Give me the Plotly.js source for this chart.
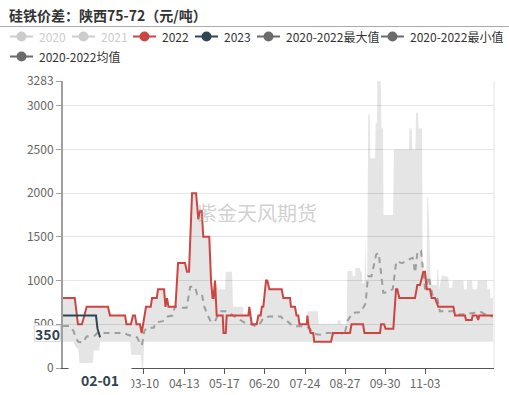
<!DOCTYPE html>
<html><head><meta charset="utf-8">
<script src="https://cdn.plot.ly/plotly-3.0.1.min.js"></script>
<style>html,body{margin:0;padding:0;background:#fff}#chart{width:509px;height:395px}</style>
</head><body><div id="chart"></div>
<script>
// ---- data (x = day index on the category axis) ----
const tickPos = [35, 68.5, 103, 137, 171, 205.5, 239.5, 273.5, 307.5];
const tickLabels = ['', '03-10', '04-13', '05-17', '06-20', '07-24', '08-27', '09-30', '11-03'];
const yTicks = [0, 500, 1000, 1500, 2000, 2500, 3000, 3283];
const legendNames = ['2020', '2021', '2022', '2023', '2020-2022最大值', '2020-2022最小值', '2020-2022均值'];

const x2022 = [0,10,12.7,16.1,20.1,38.2,39.9,52.7,53.9,57.7,59.4,61.1,62.4,65.4,66.8,70.5,74.5,75.6,79.6,80.7,85.8,87,88.3,89.6,95.5,97.7,103.6,105.3,107,109.6,113,114.9,116.3,117.8,119.1,124.2,125.7,127,127.8,129.1,130.5,135.6,136.3,138.2,139,157.4,158.2,159.4,160.3,164.5,165.9,167.9,168.8,170.1,172.4,173.5,175.2,185.7,187.1,192.8,193.6,197,198.3,199.8,200.8,207,207.5,208.3,210.3,212.5,213.4,227.6,229.3,243.7,245,254.8,256,269.2,270.1,272.6,273.9,280.5,282.8,283.9,285.6,298.9,300.9,303.2,306,307.4,308.9,311.7,313,315.9,317.3,318.7,331.5,332.9,341.4,342.2,347.1,347.9,351.3,352.6,353.5,365.2];
const y2022 = [800,800,500,500,700,700,600,600,500,500,600,600,500,500,400,700,700,800,800,900,900,700,800,700,700,1200,1200,1100,1100,2000,2000,1700,1800,1800,1500,1500,1000,800,800,1000,600,600,400,400,600,600,700,600,500,500,600,600,700,700,1000,1000,900,900,800,800,700,700,600,600,500,500,600,500,400,400,300,300,400,400,500,500,400,400,500,500,450,450,900,900,800,800,950,950,1100,1100,900,900,800,800,750,700,700,600,600,550,550,600,600,550,600,600];

const x2023 = [0, 28, 29.3, 31.5];
const y2023 = [600, 600, 450, 350];

const xMean = [0,6,9,11,13,17,20,27,29,52,55,60,63,65,67,69,71,77,79,86,89,93,95,98,101,105,108,112,114,118,120,123,125.5,129,131,134,138,141,146,150,154,160,164,167,170,175,185,188,191,195,205,209,213,218,224,236,239,242,246,253,257,259,262,266,268,270,272,273,280,283,288,295,297,299,301,304,306,307.5,309,310.5,314,318,320,332,337,344,350,355,360,365];
const yMean = [480,480,420,340,300,290,360,370,400,400,380,360,350,290,260,420,460,460,520,540,590,600,700,700,690,690,930,930,840,840,700,600,530,530,590,650,650,630,590,560,520,500,476,500,570,590,590,540,530,480,476,458,390,380,400,400,380,550,630,640,740,1050,1050,1300,1316,1100,860,860,900,1220,1200,1250,1260,1090,1330,1340,1100,900,950,1048,820,790,650,650,610,620,630,640,600,590];

const xMax = [0,10,12.7,16.1,20.1,38.2,39.9,52.7,53.9,57.7,59.4,61.1,62.4,65.4,66.8,70.5,74.5,75.6,79.6,80.7,85.8,87,88.3,89.6,95.5,97.7,103.6,105.3,107,109.6,113,114.9,116.3,117.8,119.1,124.2,125.7,127,127.8,129.1,131.6,137.6,138.2,143.5,144.4,152.9,153.5,157.4,158.2,159.4,160.3,164.5,165.9,167.9,168.8,170.1,172.4,173.5,175.2,185.7,187.1,192.8,193.6,197,198.3,199.8,200.8,207,207.5,216.5,217,233,233.5,235.5,236,240.8,241.5,245.7,246,248,248.3,252.2,252.5,253.9,254.2,256,256.8,257.5,258.3,259.2,260.5,261,265,265.5,266.5,267,269.8,270.5,271.8,272.2,280.3,281,293.8,294.2,296.2,296.6,299.2,299.8,301.4,302,304.9,305.5,307.8,308.6,309.3,310.2,310.8,312,312.9,317.4,317.8,318.6,319.3,321.9,324.4,327,328.2,330.3,331,340,340.5,342.8,343.2,347.4,347.9,351.6,352.1,360,360.4,362.6,363,365.2];
const yMax = [800,800,500,500,700,700,600,600,500,500,600,600,500,500,400,700,700,800,800,900,900,700,800,700,700,1200,1200,1100,1100,2000,2000,1700,1800,1800,1500,1500,1000,800,800,1000,900,900,1100,1100,700,700,600,600,700,600,500,500,600,600,700,700,1000,1000,900,900,800,800,700,700,600,600,500,500,650,650,500,500,550,550,500,500,1110,1110,1050,1050,1144,1144,1100,1100,970,970,1500,1010,1010,2900,2900,2400,2400,2800,2800,3283,3283,2740,2740,1750,1750,2500,2500,2740,2740,2500,2500,2920,2920,2740,2740,1100,1100,900,1950,1950,1500,1067,950,950,1125,1125,900,1067,1048,1048,915,915,1000,1000,900,900,1000,1000,900,900,1000,1000,900,900,800,800];

const xMin = [0,9,10.5,13,14,25.5,26,31,31.5,57,58,66,67,68,69,365.2];
const yMin = [300,300,250,210,57,57,200,200,300,300,150,150,0,0,300,300];

// ---- layout helpers (pixel -> paper) ----
const W = 509, H = 395, L = 63, R = 15, T = 81, B = 27;
const pw = W - L - R, ph = H - T - B;
const PX = v => (v - L) / pw;
const PY = v => (H - B - v) / ph;
const FONT = '"Noto Sans CJK SC", "Noto Sans", sans-serif';

const traces = [
  {x: xMin, y: yMin, mode: 'lines', line: {width: 0, color: 'rgba(0,0,0,0)'}, hoverinfo: 'skip', showlegend: false},
  {x: xMax, y: yMax, mode: 'lines', line: {width: 0, color: 'rgba(0,0,0,0)'}, fill: 'tonexty', fillcolor: 'rgba(0,0,0,0.1)', hoverinfo: 'skip', showlegend: false},
  {x: xMean, y: yMean, mode: 'lines', line: {width: 2, color: '#9e9e9e', dash: '6px,5px'}, showlegend: false},
  {x: x2022, y: y2022, mode: 'lines', line: {width: 2, color: '#cd4540'}, showlegend: false},
  {x: x2023, y: y2023, mode: 'lines', line: {width: 2, color: '#2f4554'}, showlegend: false}
];

// legend drawn manually
const legendColors = ['#cccccc', '#cccccc', '#cd4540', '#2f4554', '#6b6b6b', '#6b6b6b', '#6b6b6b'];
const legendTextColors = ['#cccccc', '#cccccc', '#333', '#333', '#333', '#333', '#333'];
const legendItems = [
  {x0: 10, y: 36.5}, {x0: 72, y: 36.5}, {x0: 133, y: 36.5}, {x0: 195, y: 36.5},
  {x0: 257, y: 36.5}, {x0: 381, y: 36.5}, {x0: 10, y: 56.5}
];
const shapes = [
  {type: 'line', xref: 'paper', yref: 'paper', x0: PX(0), x1: PX(509), y0: PY(26.5), y1: PY(26.5), line: {color: '#aaaaaa', width: 1}},
  {type: 'line', xref: 'paper', yref: 'paper', x0: 1, x1: 1, y0: 0, y1: 1, line: {color: '#e4e4e4', width: 1}}
];
const annotations = [
  {xref: 'paper', yref: 'paper', x: PX(7), y: PY(14.5), xanchor: 'left', yanchor: 'middle', showarrow: false,
   text: '<b>硅铁价差：陕西75-72（元/吨）</b>', font: {family: FONT, size: 14, color: '#333'}},
  {xref: 'paper', yref: 'paper', x: PX(257), y: PY(212), xanchor: 'center', yanchor: 'middle', showarrow: false, text: '紫金天风期货',
   font: {family: FONT, size: 20, color: 'rgba(170,170,170,0.55)'}}
];
legendItems.forEach((it, i) => {
  const c = legendColors[i];
  shapes.push({type: 'line', xref: 'paper', yref: 'paper', x0: PX(it.x0), x1: PX(it.x0 + 23), y0: PY(it.y), y1: PY(it.y), line: {color: c, width: 2}});
  shapes.push({type: 'circle', xref: 'paper', yref: 'paper', x0: PX(it.x0 + 6.5), x1: PX(it.x0 + 16.5), y0: PY(it.y + 5), y1: PY(it.y - 5), line: {width: 0}, fillcolor: c});
  annotations.push({xref: 'paper', yref: 'paper', x: PX(it.x0 + 27), y: PY(it.y), xanchor: 'left', yanchor: 'middle', showarrow: false,
    text: legendNames[i], font: {family: FONT, size: 12, color: legendTextColors[i]}});
});
// axis pointer labels (last 2023 point)
annotations.push({xref: 'x', yref: 'paper', x: x2023[x2023.length - 1], y: PY(380), xanchor: 'center', yanchor: 'middle', showarrow: false,
  text: '<b>02-01</b>', bgcolor: '#ffffff', width: 58, borderpad: 2, font: {family: FONT, size: 14, color: '#2f4554'}});
annotations.push({xref: 'paper', yref: 'paper', x: PX(47), y: PY(333.5), xanchor: 'center', yanchor: 'middle', showarrow: false,
  text: '<b>' + y2023[y2023.length - 1] + '</b>', bgcolor: '#ffffff', bordercolor: '#dddddd', borderwidth: 1, width: 25, height: 15, borderpad: 0,
  font: {family: FONT, size: 14, color: '#2f4554'}});

const layout = {
  width: W, height: H,
  margin: {l: L, r: R, t: T, b: B},
  paper_bgcolor: '#fff', plot_bgcolor: '#fff',
  showlegend: false,
  xaxis: {range: [0, 366], tickmode: 'array', tickvals: tickPos, ticktext: tickLabels,
    showgrid: false, zeroline: false, showline: true, linecolor: '#555', linewidth: 1,
    ticks: 'outside', ticklen: 5, tickcolor: '#555', tickfont: {family: FONT, size: 12, color: '#666'}},
  yaxis: {range: [0, 3283], tickmode: 'array', tickvals: yTicks, ticktext: yTicks.map(String),
    showgrid: true, gridcolor: '#e6e6e6', gridwidth: 1, zeroline: false, showline: true, linecolor: '#a0a0a0', linewidth: 2,
    ticks: 'outside', ticklen: 5, tickcolor: '#a0a0a0', tickfont: {family: FONT, size: 12, color: '#666'}},
  shapes: shapes,
  annotations: annotations
};
Plotly.newPlot('chart', traces, layout, {staticPlot: true});
</script></body></html>
